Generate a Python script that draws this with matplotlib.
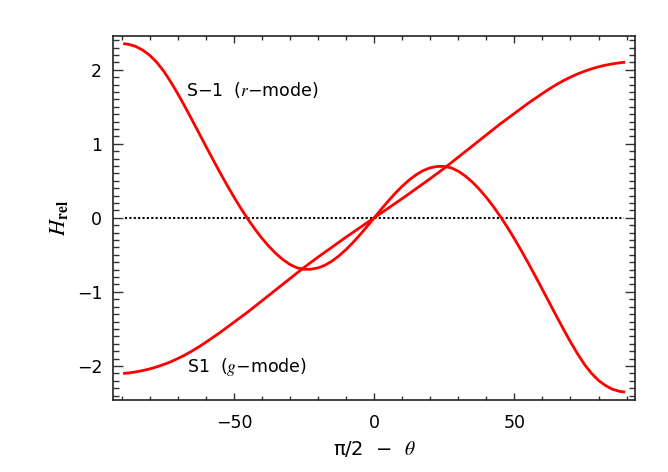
import numpy as np
import matplotlib
matplotlib.use('Agg')
import matplotlib.pyplot as plt
from matplotlib.ticker import MultipleLocator

plt.rcParams['font.family'] = ['DejaVu Sans']
plt.rcParams['mathtext.fontset'] = 'stix'

# latitude (pi/2 - theta), degrees
lat = [-89, -87.5, -85, -82.5, -80, -77.5, -75, -72.5, -70, -67.5, -65,
       -62.5, -60, -57.5, -55, -52.5, -50, -47.5, -45, -42.5, -40, -37.5,
       -35, -32.5, -30, -27.5, -25, -22.5, -20, -17.5, -15, -12.5, -10, -7.5,
       -5, -2.5, 0, 2.5, 5, 7.5, 10, 12.5, 15, 17.5, 20, 22.5, 25, 27.5, 30,
       32.5, 35, 37.5, 40, 42.5, 45, 47.5, 50, 52.5, 55, 57.5, 60, 62.5, 65,
       67.5, 70, 72.5, 75, 77.5, 80, 82.5, 85, 87.5, 89]

# S-1 (r-mode)
h_rmode = [2.35, 2.343, 2.315, 2.265, 2.195, 2.10, 1.98, 1.835, 1.675,
           1.505, 1.328, 1.148, 0.968, 0.79, 0.615, 0.445, 0.282, 0.127,
           -0.018, -0.153, -0.276, -0.386, -0.483, -0.565, -0.63, -0.675,
           -0.695, -0.694, -0.676, -0.639, -0.583, -0.512, -0.427, -0.331,
           -0.226, -0.115, 0.0,
           0.115, 0.226, 0.331, 0.427, 0.512, 0.583, 0.639, 0.676, 0.694,
           0.695, 0.675, 0.63, 0.565, 0.483, 0.386, 0.276, 0.153, 0.018,
           -0.127, -0.282, -0.445, -0.615, -0.79, -0.968, -1.148, -1.328,
           -1.505, -1.675, -1.835, -1.98, -2.10, -2.195, -2.265, -2.315,
           -2.343, -2.35]

# S1 (g-mode)
h_gmode = [-2.10, -2.094, -2.08, -2.062, -2.04, -2.012, -1.98, -1.943,
           -1.90, -1.853, -1.80, -1.742, -1.68, -1.615, -1.55, -1.48, -1.41,
           -1.34, -1.27, -1.195, -1.12, -1.045, -0.97, -0.895, -0.82, -0.745,
           -0.67, -0.60, -0.53, -0.462, -0.395, -0.327, -0.26, -0.195, -0.13,
           -0.065, 0.0,
           0.065, 0.13, 0.195, 0.26, 0.327, 0.395, 0.462, 0.53, 0.60, 0.67,
           0.745, 0.82, 0.895, 0.97, 1.045, 1.12, 1.195, 1.27, 1.34, 1.41,
           1.48, 1.55, 1.615, 1.68, 1.742, 1.80, 1.853, 1.90, 1.943, 1.98,
           2.012, 2.04, 2.062, 2.08, 2.094, 2.10]

fig = plt.figure(figsize=(6.68, 4.72), dpi=100)
ax = fig.add_axes([0.1696, 0.1525, 0.9506 - 0.1696, 0.9244 - 0.1525])

ax.plot([lat[0], lat[-1]], [0, 0], color='black', lw=1.5, ls=(0, (1, 1.1)))
ax.plot(lat, h_rmode, color='#ff0000', lw=2.0)
ax.plot(lat, h_gmode, color='#ff0000', lw=2.0)

ax.text(-67, 1.73, 'S\u22121  ($r$\u2212mode)', fontsize=12.5, va='center')
ax.text(-66.8, -2.02, 'S1  ($g$\u2212mode)', fontsize=12.5, va='center')

ax.set_xlim(-93, 93)
ax.set_ylim(-2.46, 2.46)
ax.xaxis.set_major_locator(MultipleLocator(50))
ax.xaxis.set_minor_locator(MultipleLocator(10))
ax.yaxis.set_major_locator(MultipleLocator(1))
ax.yaxis.set_minor_locator(MultipleLocator(0.1))

ax.tick_params(which='both', direction='in', top=True, right=True,
               color='#333333', labelsize=12.5)
ax.tick_params(axis='x', which='major', length=5, width=1, pad=10)
ax.tick_params(axis='x', which='minor', length=3, width=1)
ax.tick_params(axis='y', which='major', length=7.5, width=1, pad=8)
ax.tick_params(axis='y', which='minor', length=4.3, width=1)
for s in ax.spines.values():
    s.set_linewidth(1.2)
    s.set_color('#222222')

ax.set_xlabel('\u03c0/2  \u2212  $\\theta$', fontsize=14, labelpad=5)
ax.set_ylabel('$H_\\mathsf{\\mathbf{rel}}$', fontsize=16)
ax.yaxis.set_label_coords(-0.083, 0.5)

fig.savefig('out.png', dpi=100)
